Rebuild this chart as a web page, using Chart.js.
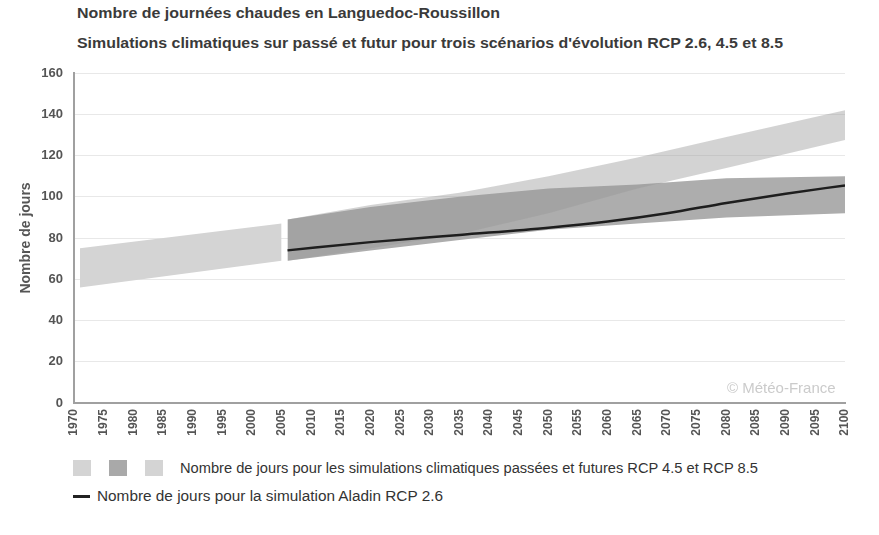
<!DOCTYPE html>
<html>
<head>
<meta charset="utf-8">
<script src="https://cdn.jsdelivr.net/npm/chart.js@4"></script>
<style>
  body { margin: 0; background: #fff; width: 879px; height: 535px; overflow: hidden; position: relative; font-family: "Liberation Sans", Arial, sans-serif; }
  #box { position: absolute; left: 0; top: 0; width: 879px; height: 448px; }
  .fit { position: absolute; white-space: nowrap; transform-origin: 0 50%; }
  .title { left: 77px; font-weight: bold; color: #3a3a3a; font-size: 14px; }
  #t1 { top: 5px; }
  #t2 { top: 35px; }
  #mark { position: absolute; left: 727px; top: 379px; font-size: 15px; color: #cbcbcb; }
  .sq { position: absolute; top: 460px; width: 18px; height: 16px; }
  .legtxt { font-size: 14px; color: #333; }
  #lt1 { left: 180px; top: 460px; }
  #lt2 { left: 97px; top: 488px; }
  #dash { position: absolute; left: 73px; top: 495px; width: 17px; height: 3px; background: #222; }
</style>
</head>
<body>
<div class="fit title" id="t1" data-w="423">Nombre de journées chaudes en Languedoc-Roussillon</div>
<div class="fit title" id="t2" data-w="706">Simulations climatiques sur passé et futur pour trois scénarios d'évolution RCP 2.6, 4.5 et 8.5</div>
<div id="box"><canvas id="chart"></canvas></div>
<div id="mark">© Météo-France</div>
<span class="sq" style="left:73px;background:#d4d4d4"></span>
<span class="sq" style="left:109px;background:#a9a9a9"></span>
<span class="sq" style="left:145px;background:#d4d4d4"></span>
<div class="fit legtxt" id="lt1" data-w="578">Nombre de jours pour les simulations climatiques passées et futures RCP 4.5 et RCP 8.5</div>
<span id="dash"></span>
<div class="fit legtxt" id="lt2" data-w="346">Nombre de jours pour la simulation Aladin RCP 2.6</div>
<script>
// ── data ─────────────────────────────────────────────────────
const histYears = [1971, 2005];
const histHigh  = [75, 87];
const histLow   = [56, 69];

const futYears  = [2006, 2020, 2035, 2050, 2065, 2080, 2100];
const rcp45High = [89, 95, 100, 104, 106, 109, 110];
const rcp45Low  = [69, 74, 79, 84, 87, 90, 92];
const rcp85High = [89, 96, 102, 110, 119, 129, 142];
const rcp85Low  = [69, 75, 82, 92, 104, 114, 127.5];

const aladinYears = [2006, 2020, 2035, 2050, 2060, 2070, 2080, 2090, 2100];
const aladin      = [74, 78, 81.5, 85, 88, 92, 97, 101.5, 105.5];

const yTicks = [0, 20, 40, 60, 80, 100, 120, 140, 160];

// stretch the html texts to the widths measured on the reference
document.querySelectorAll('.fit').forEach(el => {
  const w = el.getBoundingClientRect().width;
  el.style.transform = 'scaleX(' + (el.dataset.w / w) + ')';
});

function pts(xs, ys) { return xs.map((x, i) => ({ x: x, y: ys[i] })); }

function band(xs, ys, fill, color, order) {
  return { data: pts(xs, ys), borderWidth: 0, pointRadius: 0, fill: fill, backgroundColor: color, order: order };
}

const fam = '"Liberation Sans", Arial, sans-serif';

new Chart(document.getElementById('chart'), {
  type: 'line',
  data: {
    datasets: [
      band(histYears, histHigh, false, 'rgba(0,0,0,0)', 3),
      band(histYears, histLow, '-1', '#d4d4d4', 3),
      band(futYears, rcp45High, false, 'rgba(0,0,0,0)', 2),
      band(futYears, rcp45Low, '-1', '#adadad', 2),
      band(futYears, rcp85High, false, 'rgba(0,0,0,0)', 1),
      band(futYears, rcp85Low, '-1', 'rgba(150,150,150,0.42)', 1),
      { data: pts(aladinYears, aladin), borderColor: '#1e1e1e', borderWidth: 2.5, pointRadius: 0, fill: false, cubicInterpolationMode: 'monotone', order: 0 },
    ]
  },
  options: {
    responsive: true, maintainAspectRatio: false, animation: false,
    layout: { padding: { top: 73, right: 34, left: 0, bottom: 0 } },
    plugins: { legend: { display: false }, tooltip: { enabled: false } },
    scales: {
      x: {
        type: 'linear', min: 1970, max: 2100,
        afterFit: s => { s.height = 45; },
        grid: { display: false, drawTicks: false },
        border: { display: true, color: '#a0a0a0', width: 2 },
        ticks: { stepSize: 5, autoSkip: false, minRotation: 90, maxRotation: 90, padding: 6, color: '#555', font: { family: fam, size: 12, weight: 'bold' }, callback: v => String(v) },
      },
      y: {
        min: 0, max: 160,
        afterFit: s => { s.width = 74; },
        afterBuildTicks: s => { s.ticks = yTicks.map(v => ({ value: v })); },
        grid: { color: '#e8e8e8', drawTicks: false },
        border: { display: true, color: '#a0a0a0', width: 2 },
        ticks: { padding: 11, color: '#555', font: { family: fam, size: 13, weight: 'bold' } },
        title: { display: true, text: 'Nombre de jours', color: '#555', padding: { top: 18 }, font: { family: fam, size: 14, weight: 'bold' } },
      }
    }
  }
});
</script>
</body>
</html>
